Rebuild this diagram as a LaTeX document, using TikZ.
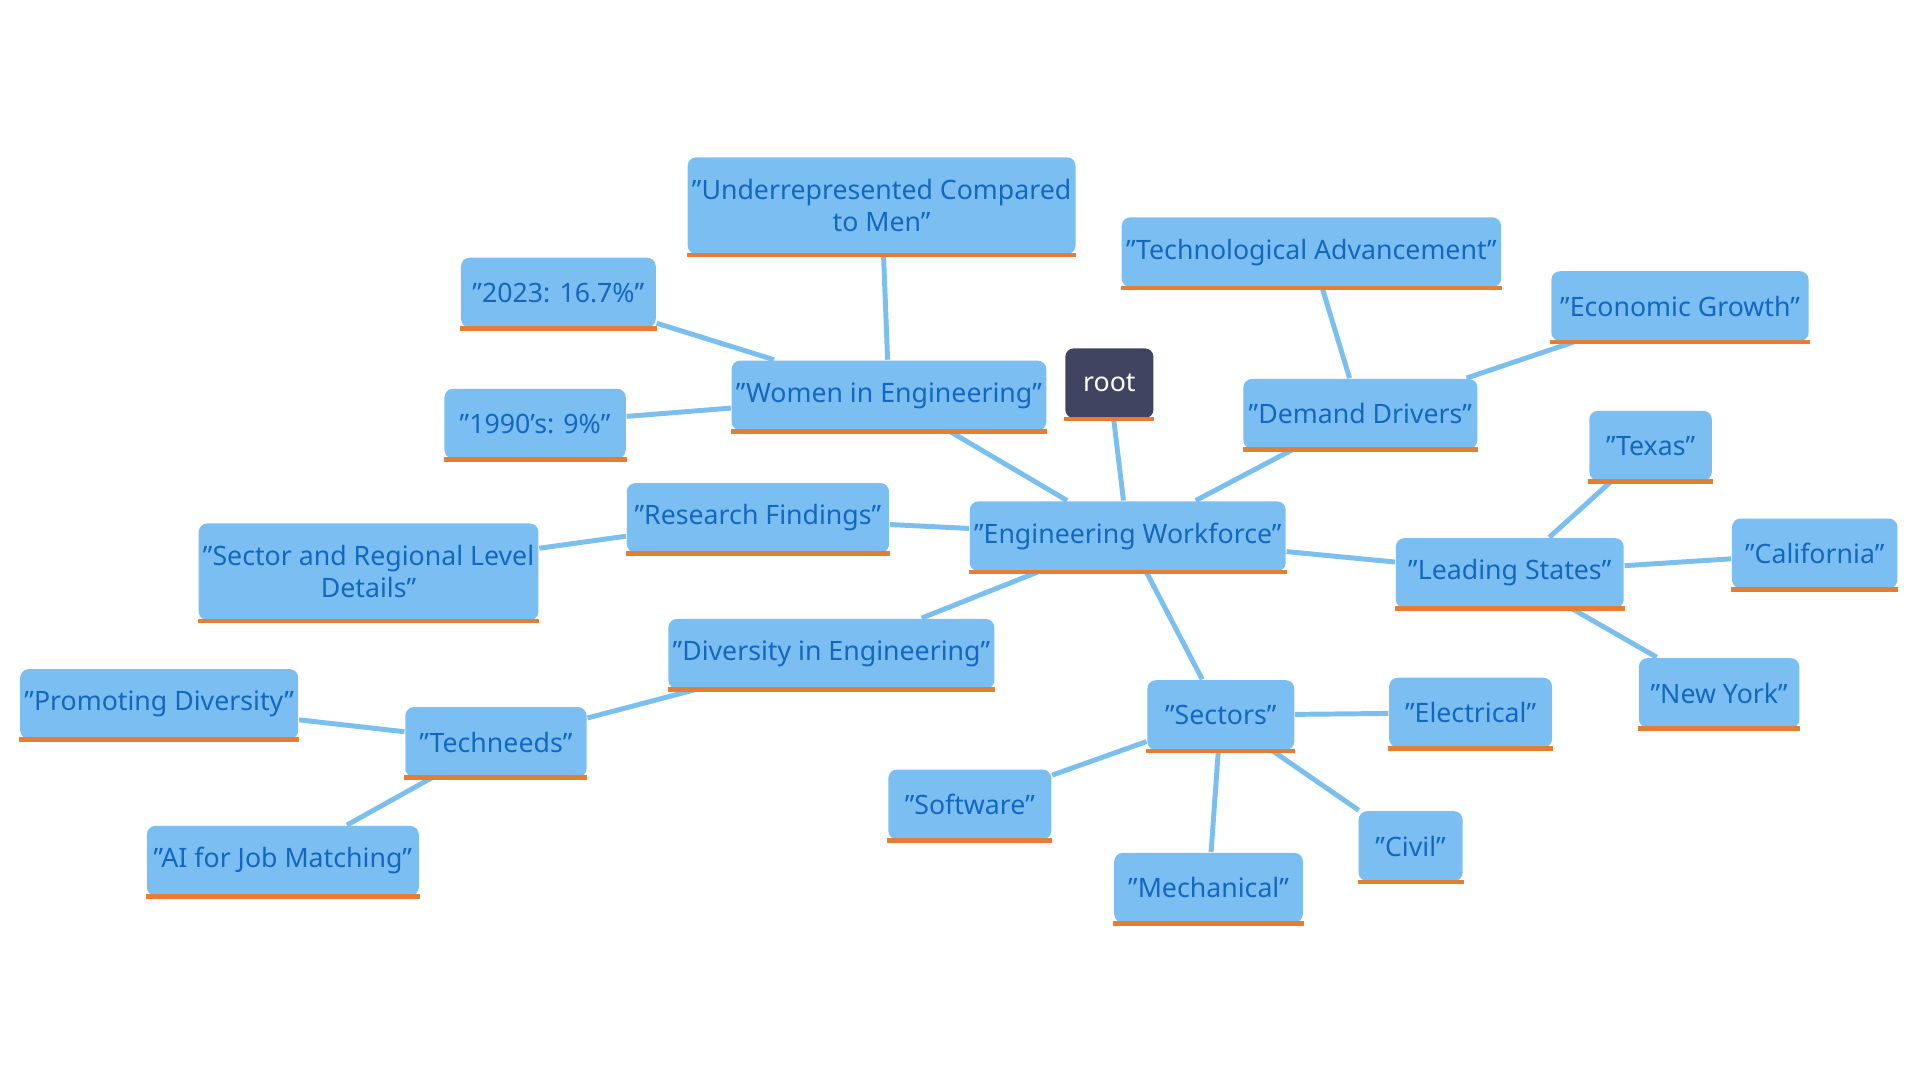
\documentclass[tikz,border=0pt]{standalone}
\usepackage{fontspec}
\setmainfont{Noto Sans}
\usetikzlibrary{backgrounds}
\definecolor{edgeblue}{HTML}{7BBFEE}
\definecolor{boxblue}{HTML}{7BBFF2}
\definecolor{textblue}{HTML}{1467BE}
\definecolor{barorange}{HTML}{E57D32}
\definecolor{rootgray}{HTML}{3F4560}
\newcommand\qq{\symbol{34}}
\tikzset{
  box/.style={fill=boxblue, text=textblue, rounded corners=2pt, minimum height=0.57cm,
    inner sep=1pt, align=center, font=\fontsize{6.2}{7.4}\selectfont},
  tallbox/.style={box, minimum height=0.79cm},
  rootbox/.style={box, fill=rootgray, text=white},
  link/.style={draw=edgeblue, line width=1.15pt},
  bar/.style={draw=barorange, line width=1.1pt}
}
\begin{document}
\begin{tikzpicture}[x=0.01cm, y=-0.01cm]

	%Canvas
	\useasboundingbox (0,0) rectangle (1568,882);

	%Nodes
	\node[rootbox, minimum width=0.72cm] (root) at (906,313) {root};
	\node[box, minimum width=2.53cm] (work) at (921,438) {\qq Engineering Workforce\qq};
	\node[box, minimum width=2.48cm] (women) at (726,323) {\qq Women in Engineering\qq};
	\node[tallbox, minimum width=3.09cm] (under) at (720,168) {\qq Underrepresented Compared\\to Men\qq};
	\node[box, minimum width=1.59cm] (y2023) at (456,239) {\qq 2023: 16.7\%\qq};
	\node[box, minimum width=1.48cm] (y1990) at (437,346) {\qq 1990's: 9\%\qq};
	\node[box, minimum width=3.07cm] (tech) at (1071,206) {\qq Technological Advancement\qq};
	\node[box, minimum width=2.10cm] (econ) at (1372,250) {\qq Economic Growth\qq};
	\node[box, minimum width=1.91cm] (demand) at (1111,338) {\qq Demand Drivers\qq};
	\node[box, minimum width=1.00cm] (texas) at (1348,364) {\qq Texas\qq};
	\node[box, minimum width=1.35cm] (calif) at (1482,452) {\qq California\qq};
	\node[box, minimum width=1.86cm] (states) at (1233,468) {\qq Leading States\qq};
	\node[box, minimum width=1.31cm] (newyork) at (1404,566) {\qq New York\qq};
	\node[box, minimum width=2.14cm] (research) at (619,423) {\qq Research Findings\qq};
	\node[tallbox, minimum width=2.76cm] (detail) at (301,467) {\qq Sector and Regional Level\\Details\qq};
	\node[box, minimum width=2.58cm] (divers) at (679,534) {\qq Diversity in Engineering\qq};
	\node[box, minimum width=1.48cm] (techneeds) at (405,606) {\qq Techneeds\qq};
	\node[box, minimum width=2.24cm] (promo) at (130,575) {\qq Promoting Diversity\qq};
	\node[box, minimum width=2.22cm] (ai) at (231,703) {\qq AI for Job Matching\qq};
	\node[box, minimum width=1.20cm] (sectors) at (997,584) {\qq Sectors\qq};
	\node[box, minimum width=1.33cm] (elec) at (1201,582) {\qq Electrical\qq};
	\node[box, minimum width=1.33cm] (soft) at (792,657) {\qq Software\qq};
	\node[box, minimum width=1.54cm] (mech) at (987,725) {\qq Mechanical\qq};
	\node[box, minimum width=0.85cm] (civil) at (1152,691) {\qq Civil\qq};

	%Links, behind the boxes
	\begin{scope}[on background layer]
	\foreach \a/\b in {root/work, work/women, women/under, women/y2023, women/y1990,
	  work/demand, demand/tech, demand/econ, work/states, states/texas, states/calif,
	  states/newyork, work/research, research/detail, work/divers, divers/techneeds,
	  techneeds/promo, techneeds/ai, work/sectors, sectors/elec, sectors/soft,
	  sectors/mech, sectors/civil}
	  \path[link] (\a) -- (\b);
	\end{scope}

	%Orange bars under every box
	\foreach \n in {root, work, women, under, y2023, y1990, tech, econ, demand, texas,
	  calif, states, newyork, research, detail, divers, techneeds, promo, ai, sectors,
	  elec, soft, mech, civil}
	  \draw[bar] (\n.south west) -- (\n.south east);

\end{tikzpicture}
\end{document}
